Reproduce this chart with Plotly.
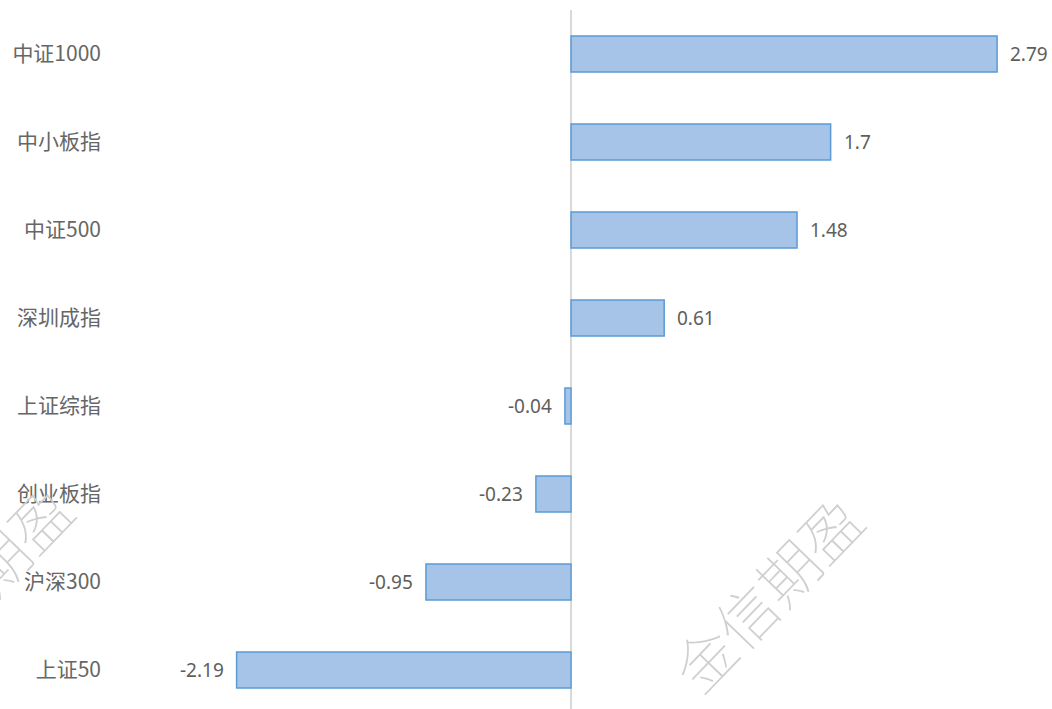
import plotly.graph_objects as go

# Index returns (%), listed top to bottom
indices = ["中证1000", "中小板指", "中证500", "深圳成指", "上证综指", "创业板指", "沪深300", "上证50"]
returns = [2.79, 1.7, 1.48, 0.61, -0.04, -0.23, -0.95, -2.19]
value_labels = ["2.79", "1.7", "1.48", "0.61", "-0.04", "-0.23", "-0.95", "-2.19"]

watermark = "金信期盈"

W, H = 1052, 709
ML, MR, MT, MB = 110, 12, 10, 0
plot_w = W - ML - MR
plot_h = H - MT - MB

fig = go.Figure()

fig.add_trace(go.Bar(
    x=returns,
    y=indices,
    orientation="h",
    width=0.41,
    marker=dict(color="#a6c3e8", line=dict(color="#5b9bd5", width=1.5)),
    hoverinfo="x+y",
))

# value labels beside each bar
for name, v, t in zip(indices, returns, value_labels):
    fig.add_annotation(
        x=v, y=name, xref="x", yref="y", text=t, showarrow=False,
        xanchor="left" if v >= 0 else "right",
        xshift=11 if v >= 0 else -11,
        font=dict(family="Noto Sans, Open Sans, sans-serif", size=19, color="#5e5e5e"),
    )

# diagonal outline watermarks
def paper_xy(px, py):
    return (px - ML) / plot_w, (H - MB - py) / plot_h

for cx, cy in [(765, 592), (-25, 582)]:
    ax, ay = paper_xy(cx, cy)
    fig.add_annotation(
        x=ax, y=ay, xref="paper", yref="paper", text=watermark, showarrow=False,
        textangle=-46, xanchor="center", yanchor="middle",
        font=dict(family="Noto Sans CJK SC", size=60, color="#cfcfcf", weight=100),
    )

fig.update_layout(
    width=W, height=H,
    margin=dict(l=ML, r=MR, t=MT, b=MB),
    paper_bgcolor="white", plot_bgcolor="white",
    showlegend=False,
    xaxis=dict(
        range=[-3.019, 3.071], showgrid=False, showticklabels=False,
        zeroline=True, zerolinecolor="#d9d9d9", zerolinewidth=1.5,
        showline=False, fixedrange=True,
    ),
    yaxis=dict(
        categoryorder="array", categoryarray=indices,
        range=[7.443, -0.5], showgrid=False, zeroline=False, showline=False,
        ticks="", ticklabelstandoff=8,
        tickfont=dict(family="Noto Sans CJK SC", size=21, color="#666666"),
    ),
)

fig.write_html("out.html")
